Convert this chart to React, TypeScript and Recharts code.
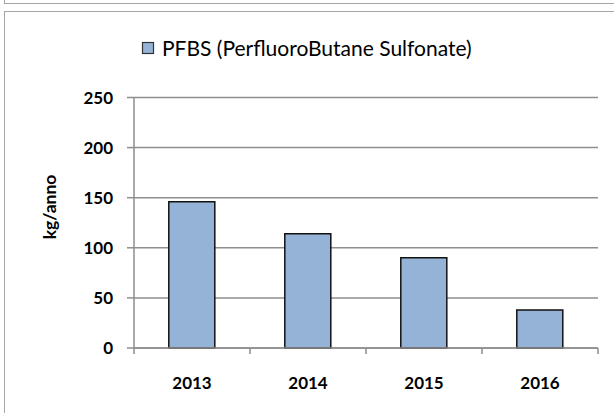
import React from 'react';
import { BarChart, Bar, XAxis, YAxis, CartesianGrid } from 'recharts';

const years = ['2013', '2014', '2015', '2016'];
const pfbs = [146, 114, 90, 38];
const yTicks = [0, 50, 100, 150, 200, 250];
const seriesName = 'PFBS (PerfluoroButane Sulfonate)';
const yTitle = 'kg/anno';

const data = years.map((y, i) => ({ year: y, pfbs: pfbs[i] }));

const FONT = 'Lato, "Open Sans", sans-serif';
const GRID = '#8e8e8e';

const XTick = (props: any) => {
  const { x, y, payload, width, visibleTicksCount, index } = props;
  const half = width / visibleTicksCount / 2;
  return (
    <g>
      <line x1={x - half} x2={x - half} y1={y} y2={y + 6} stroke={GRID} strokeWidth={1.5} />
      {index === visibleTicksCount - 1 && (
        <line x1={x + half} x2={x + half} y1={y} y2={y + 6} stroke={GRID} strokeWidth={1.5} />
      )}
      <text x={x} y={y + 41} textAnchor="middle" fontFamily={FONT} fontWeight={700} fontSize={17} fill="#000">
        {payload.value}
      </text>
    </g>
  );
};

const YTick = (props: any) => {
  const { x, y, payload } = props;
  return (
    <text x={x} y={y + 6} textAnchor="end" fontFamily={FONT} fontWeight={700} fontSize={17} fill="#000">
      {payload.value}
    </text>
  );
};

export default function App() {
  return (
    <div style={{ position: 'absolute', left: 0, top: 0, width: 614, height: 413, overflow: 'hidden', background: '#fff' }}>
      <div style={{ position: 'absolute', left: 4, top: -10, width: 700, height: 12, border: '1.5px solid #a6a6a6' }} />
      <div style={{ position: 'absolute', left: 4, top: 11, width: 700, height: 500, border: '1.5px solid #a6a6a6' }} />
      <div style={{ position: 'absolute', left: 0, top: 0 }}>
        <BarChart width={614} height={413} data={data} margin={{ top: 97.5, right: 16, bottom: 35, left: 64 }} barCategoryGap="30%">
          <CartesianGrid vertical={false} stroke={GRID} strokeWidth={1.5} />
          <XAxis dataKey="year" height={30} tickSize={0} tickMargin={0} tickLine={false} axisLine={{ stroke: GRID, strokeWidth: 1.5 }} tick={<XTick />} interval={0} />
          <YAxis domain={[0, 250]} ticks={yTicks} width={70} tickSize={7} tickMargin={14} tickLine={{ stroke: GRID, strokeWidth: 1.5 }} axisLine={{ stroke: GRID, strokeWidth: 1.5 }} tick={<YTick />} interval={0} />
          <Bar dataKey="pfbs" name={seriesName} fill="#95b3d7" stroke="#111" strokeWidth={1.5} isAnimationActive={false} />
        </BarChart>
      </div>
      <svg style={{ position: 'absolute', left: 0, top: 0 }} width={614} height={413}>
        <rect x={142.5} y={42.5} width={11} height={11} fill="#95b3d7" stroke="#333" strokeWidth={1.2} />
        <text x={162} y={55.5} fontFamily={FONT} fontSize={21} fill="#000">{seriesName}</text>
        <text x={0} y={0} transform="translate(56,207) rotate(-90)" textAnchor="middle" fontFamily={FONT} fontWeight={700} fontSize={17.5} fill="#000">{yTitle}</text>
      </svg>
    </div>
  );
}
